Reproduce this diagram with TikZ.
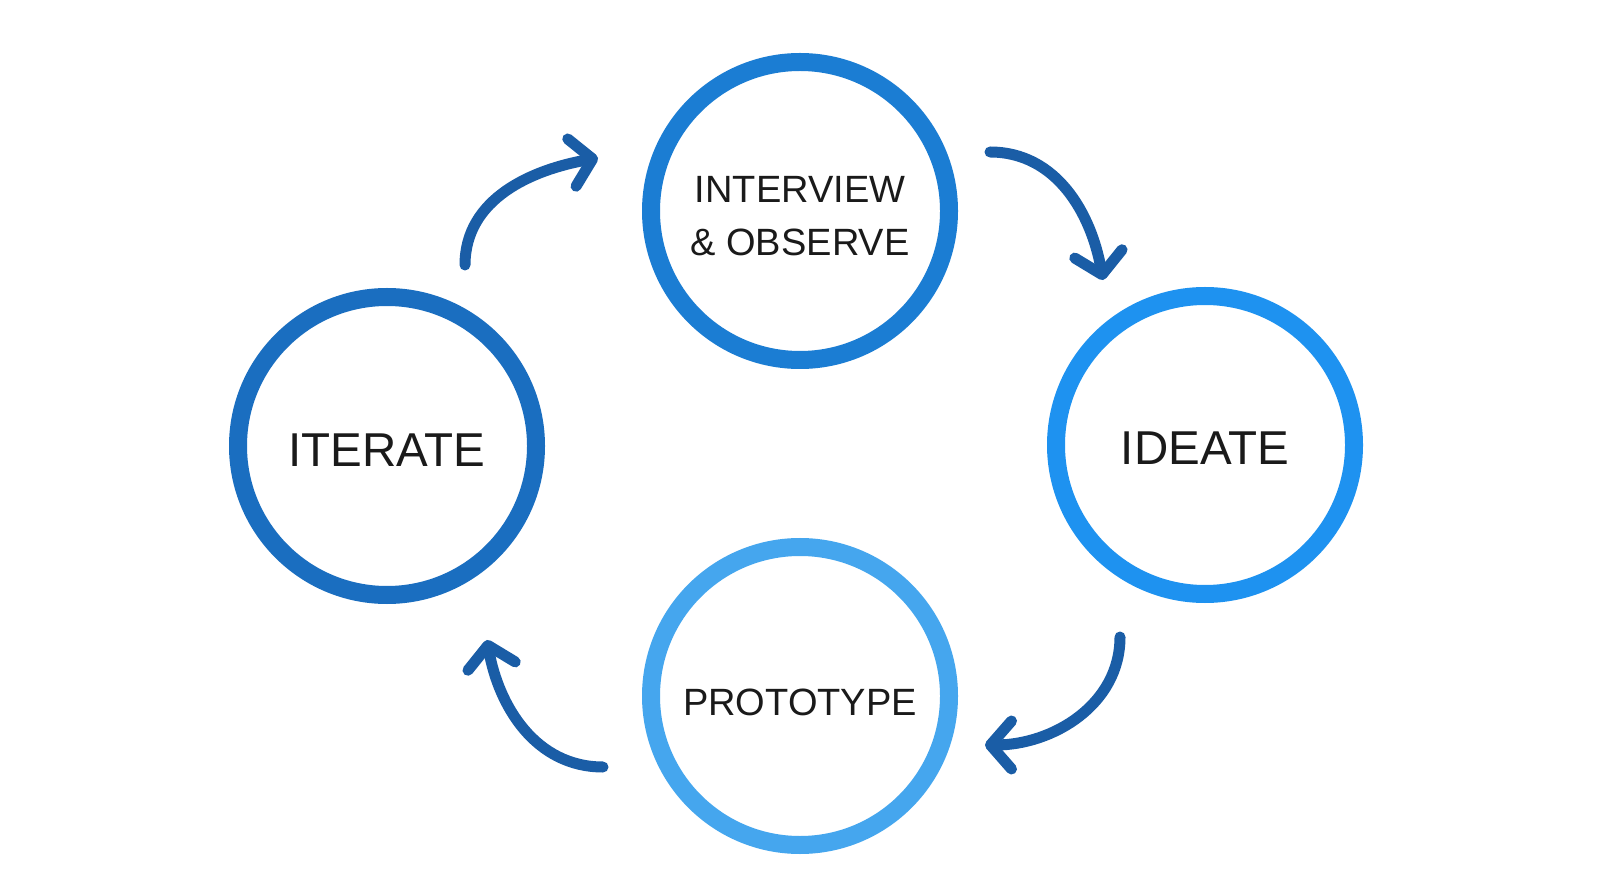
\documentclass[tikz,border=0pt]{standalone}
\usepackage{fontspec}
\setmainfont{Liberation Sans}
\usetikzlibrary{arrows.meta}
\definecolor{cTop}{HTML}{1B7DD3}
\definecolor{cLeft}{HTML}{1A6EC0}
\definecolor{cRight}{HTML}{1E92F0}
\definecolor{cBot}{HTML}{45A6EE}
\definecolor{cArrow}{HTML}{1A5DA6}
\definecolor{cText}{HTML}{1A1A1A}
\tikzset{
  ring/.style={circle, draw=#1, line width=18pt, minimum size=298pt, inner sep=0pt},
  bigtxt/.style={font=\fontsize{47.5pt}{52pt}\selectfont, text=cText, align=center},
  smalltxt/.style={font=\fontsize{38pt}{53pt}\selectfont, text=cText, align=center},
  flow/.style={draw=cArrow, line width=11pt, line cap=round,
    -{Straight Barb[length=21pt,width=48pt,line cap=round,line join=round]}}
}
\begin{document}
\begin{tikzpicture}[x=1pt,y=1pt]
\useasboundingbox (0,0) rectangle (1600,895);
\fill[white] (0,0) rectangle (1600,895);
\node[ring=cTop, label={[smalltxt, yshift=-5pt]center:INTERVIEW\\\& OBSERVE}] (obs) at (800,684) {};
\node[ring=cLeft, label={[bigtxt, yshift=-4pt]center:ITERATE}] (iter) at (387,449) {};
\node[ring=cRight, label={[bigtxt, yshift=-3pt]center:IDEATE}] (idea) at (1205,450) {};
\node[ring=cBot, label={[smalltxt, yshift=-6pt]center:PROTOTYPE}] (proto) at (800,199) {};
\coordinate (a1s) at (465,630);
\coordinate (a1e) at (598,737);
\coordinate (a2s) at (990,743);
\coordinate (a2e) at (1103,615);
\coordinate (a3s) at (1120,258);
\coordinate (a3e) at (985,150);
\coordinate (a4s) at (603,128);
\coordinate (a4e) at (487,255);
\draw[flow] (a1s) to[out=90,in=190] (a1e);
\draw[flow] (a2s) to[out=0,in=100] (a2e);
\draw[flow] (a3s) to[out=-90,in=0] (a3e);
\draw[flow] (a4s) to[out=180,in=-80] (a4e);
\end{tikzpicture}
\end{document}
